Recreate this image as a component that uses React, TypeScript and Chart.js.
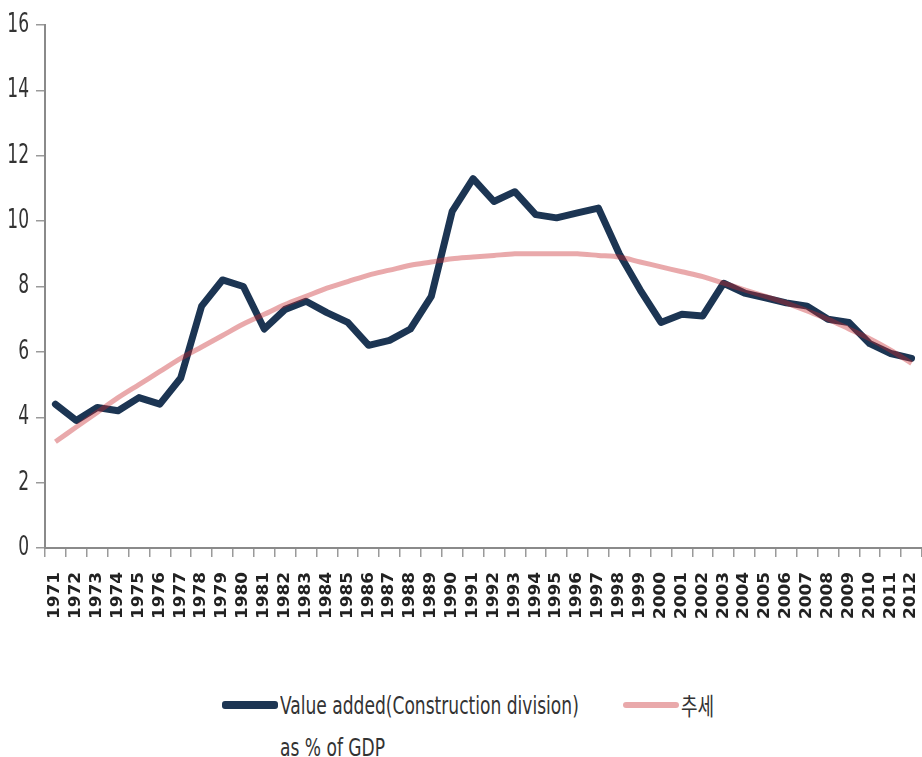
import React, { useEffect, useRef } from "react";
import { Chart, registerables } from "chart.js";

Chart.register(...registerables);

const years: string[] = [
  "1971","1972","1973","1974","1975","1976","1977","1978","1979","1980",
  "1981","1982","1983","1984","1985","1986","1987","1988","1989","1990",
  "1991","1992","1993","1994","1995","1996","1997","1998","1999","2000",
  "2001","2002","2003","2004","2005","2006","2007","2008","2009","2010",
  "2011","2012",
];

const valueAdded: number[] = [
  4.4, 3.9, 4.3, 4.2, 4.6, 4.4, 5.2, 7.4, 8.2, 8.0,
  6.7, 7.3, 7.55, 7.2, 6.9, 6.2, 6.35, 6.7, 7.7, 10.3,
  11.3, 10.6, 10.9, 10.2, 10.1, 10.25, 10.4, 9.0, 7.9, 6.9,
  7.15, 7.1, 8.1, 7.8, 7.65, 7.5, 7.4, 7.0, 6.9, 6.25,
  5.95, 5.8,
];

const trend: number[] = [
  3.25, 3.7, 4.15, 4.6, 5.0, 5.4, 5.8, 6.15, 6.5, 6.85,
  7.15, 7.45, 7.7, 7.95, 8.15, 8.35, 8.5, 8.65, 8.75, 8.85,
  8.9, 8.95, 9.0, 9.0, 9.0, 9.0, 8.95, 8.9, 8.75, 8.6,
  8.45, 8.3, 8.1, 7.9, 7.7, 7.5, 7.25, 7.0, 6.7, 6.4,
  6.05, 5.65,
];

const yTicks: number[] = [0, 2, 4, 6, 8, 10, 12, 14, 16];

const seriesName1 = "Value added(Construction division)";
const seriesName1b = "as % of GDP";
const seriesName2 = "추세";

const FONT = '"Liberation Sans Narrow", "DejaVu Sans Condensed", "Arial Narrow", "Liberation Sans", sans-serif';

const labelPlugin = {
  id: "customLabels",
  afterDraw(chart: any) {
    const ctx = chart.ctx as CanvasRenderingContext2D;
    const xs = chart.scales.x;
    const ys = chart.scales.y;
    ctx.save();
    // y labels
    ctx.fillStyle = "#333";
    ctx.font = `19px ${FONT}`;
    ctx.textAlign = "right";
    ctx.textBaseline = "middle";
    yTicks.forEach((v) => {
      const y = ys.getPixelForValue(v);
      ctx.save();
      ctx.translate(29, y);
      ctx.scale(1, 1.4);
      ctx.fillText(String(v), 0, 0);
      ctx.restore();
    });
    // x labels rotated
    ctx.fillStyle = "#222";
    ctx.font = `bold 15px ${FONT}`;
    years.forEach((lab, i) => {
      const x = xs.getPixelForTick(i);
      ctx.save();
      ctx.translate(x, 572);
      ctx.rotate(-Math.PI / 2);
      ctx.scale(1.25, 1);
      ctx.textAlign = "right";
      ctx.textBaseline = "middle";
      ctx.fillText(lab, 0, 0);
      ctx.restore();
    });
    ctx.restore();
  },
};

export default function App() {
  const ref = useRef<HTMLCanvasElement | null>(null);

  useEffect(() => {
    if (!ref.current) return;
    const chart = new Chart(ref.current, {
      type: "line",
      data: {
        labels: years,
        datasets: [
          {
            label: seriesName2,
            data: trend,
            borderColor: "rgba(200,40,45,0.4)",
            borderWidth: 5,
            pointRadius: 0,
            tension: 0.3,
            fill: false,
            order: 0,
          },
          {
            label: seriesName1 + " " + seriesName1b,
            data: valueAdded,
            borderColor: "#1C3553",
            borderWidth: 7,
            pointRadius: 0,
            tension: 0,
            borderJoinStyle: "round",
            borderCapStyle: "round",
            fill: false,
            order: 1,
          },
        ],
      },
      options: {
        animation: false,
        responsive: false,
        maintainAspectRatio: false,
        layout: { padding: { top: 25, left: 0, right: 0, bottom: 0 } },
        plugins: {
          legend: { display: false },
          tooltip: { enabled: false },
        },
        scales: {
          x: {
            type: "category",
            offset: true,
            grid: {
              display: true,
              drawOnChartArea: false,
              drawTicks: true,
              tickLength: 9,
              color: "#9a9a9a",
              offset: true,
              lineWidth: 1.5,
            },
            border: { display: true, color: "#8a8a8a", width: 2 },
            ticks: { display: false },
            afterFit: (s: any) => {
              s.height = 132;
            },
          },
          y: {
            min: 0,
            max: 16,
            ticks: { display: false, stepSize: 2 },
            grid: {
              display: true,
              drawOnChartArea: false,
              drawTicks: true,
              tickLength: 9,
              color: "#9a9a9a",
              lineWidth: 1.5,
            },
            border: { display: true, color: "#8a8a8a", width: 2 },
            afterFit: (s: any) => {
              s.width = 45;
            },
          },
        },
      },
      plugins: [labelPlugin],
    });
    return () => chart.destroy();
  }, []);

  const textStyle: React.CSSProperties = {
    position: "absolute",
    fontFamily: FONT,
    fontSize: 19,
    color: "#333",
    whiteSpace: "nowrap",
    lineHeight: "20px",
    transform: "scaleY(1.3)",
    transformOrigin: "left center",
  };

  return (
    <div
      style={{
        position: "absolute",
        left: 0,
        top: 0,
        width: 922,
        height: 757,
        background: "#fff",
        overflow: "hidden",
      }}
    >
      <canvas ref={ref} width={922} height={680} style={{ display: "block" }} />
      <div style={{ position: "absolute", left: 222, top: 701, width: 56, height: 8, background: "#1C3553", borderRadius: 3 }} />
      <div style={{ ...textStyle, left: 280, top: 695 }}>{seriesName1}</div>
      <div style={{ ...textStyle, left: 280, top: 737 }}>{seriesName1b}</div>
      <div style={{ position: "absolute", left: 623, top: 702, width: 56, height: 6, background: "rgba(200,40,45,0.4)", borderRadius: 3 }} />
      <div style={{ ...textStyle, left: 681, top: 695, fontFamily: '"Noto Sans CJK KR", sans-serif', fontSize: 18 }}>{seriesName2}</div>
    </div>
  );
}
